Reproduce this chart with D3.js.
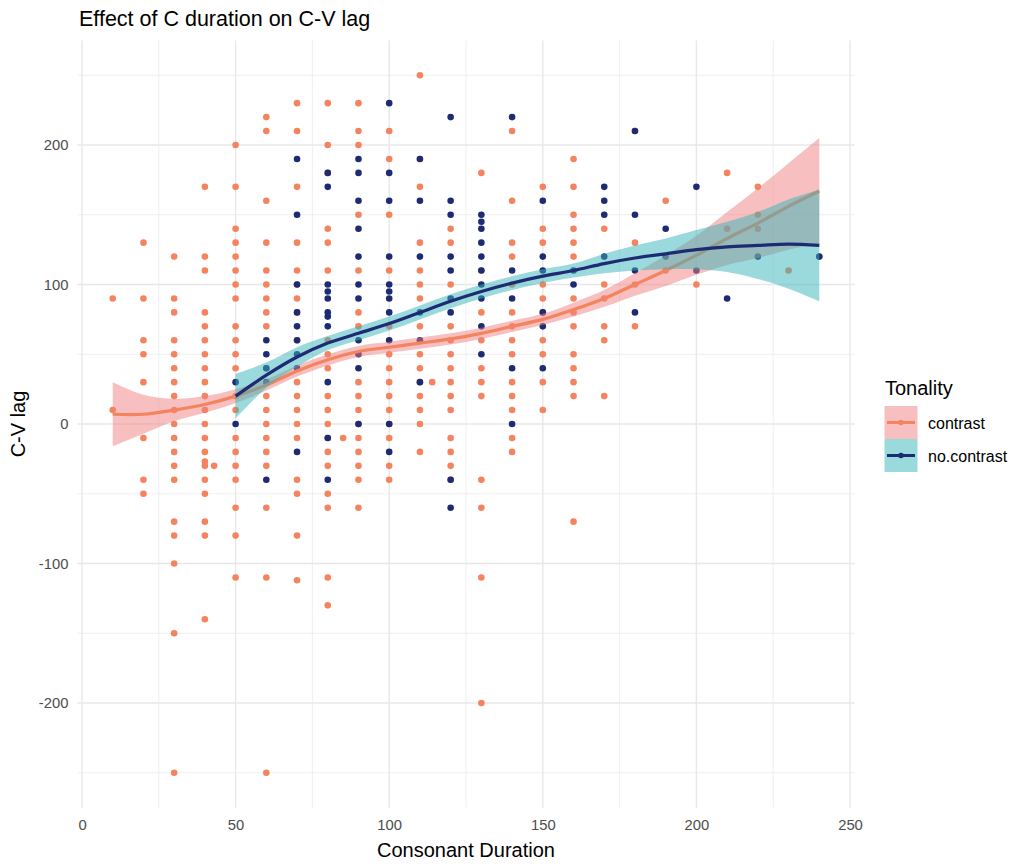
<!DOCTYPE html>
<html><head><meta charset="utf-8">
<script src="https://cdn.jsdelivr.net/npm/d3@7"></script>
<style>body{margin:0;background:#fff;} text{font-family:"Liberation Sans",Arial,sans-serif;}</style>
</head><body>
<svg id="chart" width="1014" height="864"></svg>
<script>
const title = "Effect of C duration on C-V lag";
const xLabel = "Consonant Duration";
const yLabel = "C-V lag";
const legendTitle = "Tonality";
const seriesNames = ["contrast", "no.contrast"];
const xTicks = [0, 50, 100, 150, 200, 250];
const yTicks = [-200, -100, 0, 100, 200];
const xMinor = [25, 75, 125, 175, 225];
const yMinor = [-250, -150, -50, 50, 150, 250];

// points grouped by consonant duration: [x, [lags...]]
const contrastPoints = [
  [10, [90, 10]],
  [20, [130, 90, 60, 50, 30, -10, -40, -50]],
  [30, [120, 90, 80, 60, 50, 40, 30, 20, 10, 0, -10, -20, -30, -40, -70, -80, -100, -150, -250]],
  [40, [170, 120, 110, 80, 70, 60, 50, 40, 30, 20, 10, 0, -10, -20, -27, -30, -40, -50, -70, -80, -140]],
  [43, [-30]],
  [50, [200, 170, 140, 130, 120, 110, 100, 90, 70, 60, 50, 40, 20, 10, -10, -20, -30, -40, -60, -80, -110]],
  [60, [220, 210, 160, 130, 110, 100, 90, 80, 70, 40, 20, 10, 0, -10, -20, -30, -60, -110, -250]],
  [70, [230, 210, 170, 130, 110, 100, 90, 80, 60, 30, 20, 10, 0, -10, -40, -50, -80, -112]],
  [80, [230, 200, 180, 140, 130, 110, 60, 50, 40, 20, 10, 0, -10, -20, -30, -50, -60, -110, -130]],
  [85, [-10]],
  [90, [230, 210, 200, 150, 110, 80, 70, 30, 20, 10, 0, -10, -20, -30, -40, -60]],
  [100, [210, 190, 150, 110, 70, 50, 40, 30, 20, 10, 0, -10, -30, -40]],
  [110, [250, 190, 170, 130, 110, 100, 90, 70, 50, 40, 30, 20, 10, 0, -20]],
  [114, [30]],
  [120, [140, 130, 100, 70, 60, 50, 40, 30, 20, 10, -10, -20, -30, -40]],
  [130, [180, 110, 80, 60, 40, 30, 20, -40, -60, -110, -200]],
  [140, [210, 160, 130, 120, 100, 80, 70, 60, 50, 30, 20, 10, -10, -20]],
  [150, [170, 140, 130, 100, 90, 80, 60, 50, 30, 10]],
  [160, [190, 170, 150, 140, 130, 120, 90, 80, 70, 50, 40, 30, 20, -70]],
  [170, [140, 100, 90, 70, 60, 20]],
  [180, [210, 130, 100, 70]],
  [190, [160, 110]],
  [200, [100]],
  [210, [180, 140]],
  [220, [170, 150, 140]],
  [230, [110]],
  [240, [120]]
];
const noContrastPoints = [
  [50, [30, 0]],
  [60, [60, 50, 40, 30, -40]],
  [70, [190, 150, 100, 80, 70, 60, 50, 40, -20]],
  [80, [180, 170, 100, 95, 90, 80, 77, 70, 30, -10, -40]],
  [90, [190, 180, 160, 140, 120, 100, 90, 60, 50, 40, 0]],
  [100, [230, 180, 160, 120, 100, 95, 90, 80, 60, 0, -20]],
  [110, [190, 160, 120, 80, 60, 30]],
  [120, [220, 160, 150, 120, 110, 90, 80, -40, -60]],
  [130, [150, 145, 140, 130, 120, 110, 100, 90, 70, 50]],
  [140, [220, 110, 90, 40, 0]],
  [150, [160, 120, 110, 80, 70, 40]],
  [160, [110, 100]],
  [170, [170, 160, 150, 120]],
  [180, [210, 150, 110, 80]],
  [190, [140, 120]],
  [200, [170, 110]],
  [210, [90]],
  [220, [120]],
  [240, [120]]
];

// smooth fits (loess)
const contrastSmoothX = [10, 20, 30, 40, 50, 60, 70, 80, 90, 100, 110, 120, 130, 140, 150, 160, 170, 180, 190, 200, 210, 220, 230, 240];
const contrastSmoothY = [7, 7, 10, 14, 20, 28, 38, 46, 52, 55, 58, 61, 65, 70, 75, 82, 90, 100, 110, 121, 133, 144, 156, 167];
const contrastSmoothSE = [23, 14, 8, 6, 5, 4, 4, 4, 4, 4, 4, 4, 4, 4, 4, 5, 6, 8, 11, 14, 19, 25, 31, 38];
const noContrastSmoothX = [50, 60, 70, 80, 90, 100, 110, 120, 130, 140, 150, 160, 170, 180, 190, 200, 210, 220, 230, 240];
const noContrastSmoothY = [20, 35, 48, 58, 65, 72, 80, 88, 95, 101, 106, 110, 115, 119, 122, 125, 127, 128, 129, 128];
const noContrastSmoothSE = [16, 9, 7, 5, 5, 5, 5, 5, 5, 5, 5, 5, 7, 9, 11, 14, 18, 24, 32, 40];

const colors = {pt: ["#F4845F", "#1D2B73"], band: ["#F08080", "#35B3B9"]};

const svg = d3.select("#chart");
const x = d3.scaleLinear().domain([0, 250]).range([82, 850]);
const y = d3.scaleLinear().domain([-200, 200]).range([703, 145]);
const panel = {l: x(-1.5), r: x(251.5), t: y(275), b: y(-275)};
const fmt = d => String(d);

const g = svg.append("g");
// grid
g.selectAll(".xm").data(xMinor).join("line").attr("x1", d => x(d)).attr("x2", d => x(d))
  .attr("y1", panel.t).attr("y2", panel.b).attr("stroke", "#EBEBEB").attr("stroke-width", 0.8);
g.selectAll(".ym").data(yMinor).join("line").attr("y1", d => y(d)).attr("y2", d => y(d))
  .attr("x1", panel.l).attr("x2", panel.r).attr("stroke", "#EBEBEB").attr("stroke-width", 0.8);
g.selectAll(".xM").data(xTicks).join("line").attr("x1", d => x(d)).attr("x2", d => x(d))
  .attr("y1", panel.t).attr("y2", panel.b).attr("stroke", "#E8E8E8").attr("stroke-width", 1.4);
g.selectAll(".yM").data(yTicks).join("line").attr("y1", d => y(d)).attr("y2", d => y(d))
  .attr("x1", panel.l).attr("x2", panel.r).attr("stroke", "#E8E8E8").attr("stroke-width", 1.4);

// axes
const xAxis = d3.axisBottom(x).tickValues(xTicks).tickFormat(fmt).tickSize(0).tickPadding(0);
const yAxis = d3.axisLeft(y).tickValues(yTicks).tickFormat(fmt).tickSize(0).tickPadding(0);
const xa = svg.append("g").attr("transform", `translate(0,${panel.b + 12})`).call(xAxis);
const ya = svg.append("g").attr("transform", `translate(${panel.l - 9},0)`).call(yAxis);
[xa, ya].forEach(a => {
  a.select(".domain").remove();
  a.selectAll("text").attr("fill", "#4D4D4D").style("font-size", "14.8px")
   .style("font-family", "'Liberation Sans', Arial, sans-serif");
});

// points
function flat(arr) { const out = []; arr.forEach(([xv, ys]) => ys.forEach(v => out.push([xv, v]))); return out; }
svg.append("g").selectAll("circle").data(flat(contrastPoints)).join("circle")
  .attr("cx", d => x(d[0])).attr("cy", d => y(d[1])).attr("r", 3.3).attr("fill", colors.pt[0]);
svg.append("g").selectAll("circle").data(flat(noContrastPoints)).join("circle")
  .attr("cx", d => x(d[0])).attr("cy", d => y(d[1])).attr("r", 3.3).attr("fill", colors.pt[1]);

// smooths
function drawSmooth(xs, ys, se, i) {
  const d = xs.map((v, k) => ({x: v, y: ys[k], lo: ys[k] - se[k], hi: ys[k] + se[k]}));
  const area = d3.area().curve(d3.curveCatmullRom).x(p => x(p.x)).y0(p => y(p.lo)).y1(p => y(p.hi));
  const line = d3.line().curve(d3.curveCatmullRom).x(p => x(p.x)).y(p => y(p.y));
  svg.append("path").datum(d).attr("d", area).attr("fill", colors.band[i]).attr("fill-opacity", 0.5);
  svg.append("path").datum(d).attr("d", line).attr("fill", "none").attr("stroke", colors.pt[i])
    .attr("stroke-width", 3.2).attr("stroke-linecap", "butt");
}
drawSmooth(contrastSmoothX, contrastSmoothY, contrastSmoothSE, 0);
drawSmooth(noContrastSmoothX, noContrastSmoothY, noContrastSmoothSE, 1);

// titles
svg.append("text").attr("x", 79).attr("y", 26).text(title).attr("fill", "#000").style("font-size", "21.5px");
svg.append("text").attr("x", (panel.l + panel.r) / 2).attr("y", 857).attr("text-anchor", "middle")
  .text(xLabel).style("font-size", "20px").attr("fill", "#000");
svg.append("text").attr("transform", `translate(25,${(panel.t + panel.b) / 2}) rotate(-90)`)
  .attr("text-anchor", "middle").text(yLabel).style("font-size", "20px").attr("fill", "#000");

// legend
const lg = svg.append("g");
lg.append("text").attr("x", 885).attr("y", 395).text(legendTitle).style("font-size", "20px").attr("fill", "#000");
seriesNames.forEach((name, i) => {
  const top = 406 + i * 33;
  lg.append("rect").attr("x", 884.5).attr("y", top).attr("width", 33).attr("height", 33)
    .attr("fill", colors.band[i]).attr("fill-opacity", 0.5);
  lg.append("line").attr("x1", 887).attr("x2", 915).attr("y1", top + 16.5).attr("y2", top + 16.5)
    .attr("stroke", colors.pt[i]).attr("stroke-width", 3);
  lg.append("circle").attr("cx", 901).attr("cy", top + 16.5).attr("r", 2.8).attr("fill", colors.pt[i]);
  lg.append("text").attr("x", 928).attr("y", top + 22.5).text(name).style("font-size", "16px").attr("fill", "#000");
});
</script>
</body></html>
